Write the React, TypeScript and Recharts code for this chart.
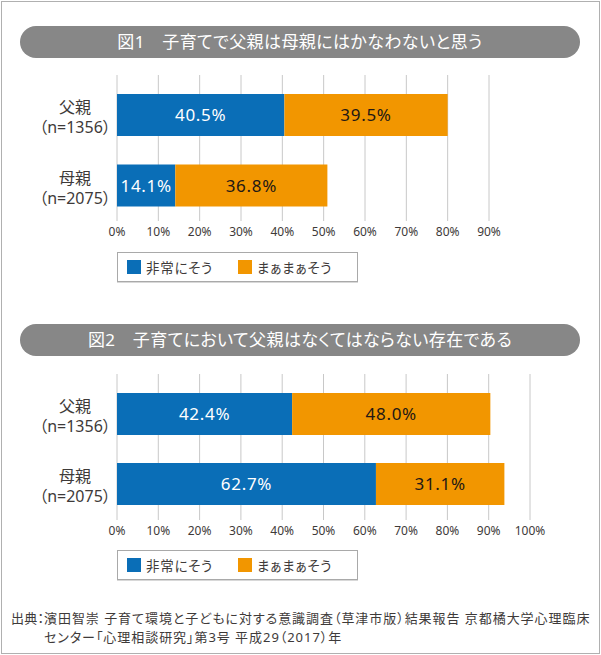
import { Bar, BarChart, CartesianGrid, LabelList, XAxis, YAxis } from "recharts";

const groups = ["父親", "母親"];
const sampleSizes = ["n=1356", "n=2075"];
const seriesNames = ["非常にそう", "まぁまぁそう"];

const fig1Title = "図1　子育てで父親は母親にはかなわないと思う";
const fig1Strong = [40.5, 14.1];
const fig1Somewhat = [39.5, 36.8];
const fig1Ticks = [0, 10, 20, 30, 40, 50, 60, 70, 80, 90];

const fig2Title = "図2　子育てにおいて父親はなくてはならない存在である";
const fig2Strong = [42.4, 62.7];
const fig2Somewhat = [48.0, 31.1];
const fig2Ticks = [0, 10, 20, 30, 40, 50, 60, 70, 80, 90, 100];

const sourceLabel = "出典：";
const sourceLines = [
  "濱田智崇 子育て環境と子どもに対する意識調査（草津市版）結果報告 京都橘大学心理臨床",
  "センター「心理相談研究」第3号 平成29（2017）年",
];

const BLUE = "#0a6eb7";
const ORANGE = "#f29600";
const TEXT = "#3e3a39";
const FONT = '"Noto Sans", "Noto Sans CJK JP", sans-serif';

const pct = (v: any) => `${Number(v).toFixed(1)}%`;

function GroupTick(props: any) {
  const { x, y, index } = props;
  const cx = x - 42;
  return (
    <g fill={TEXT} fontSize={16} fontFamily={FONT} style={{ fontFeatureSettings: '"palt"' }}>
      <text x={cx} y={y - 2} textAnchor="middle">
        {groups[index]}
      </text>
      <text x={cx} y={y + 18} textAnchor="middle">
        {`（${sampleSizes[index]}）`}
      </text>
    </g>
  );
}

function Pill({ top, text }: { top: number; text: string }) {
  return (
    <div
      style={{
        position: "absolute",
        left: 20,
        top,
        width: 560,
        height: 32,
        borderRadius: 16,
        background: "#878787",
        color: "#fff",
        fontSize: 17,
        lineHeight: "32px",
        textAlign: "center",
        letterSpacing: 0.4,
      }}
    >
      {text}
    </div>
  );
}

function LegendBox({ top }: { top: number }) {
  const colors = [BLUE, ORANGE];
  return (
    <div
      style={{
        position: "absolute",
        left: 117,
        top,
        width: 230,
        height: 28,
        border: "1px solid #a9a9a9",
        boxShadow: "0 1px 0 #d8d8d8",
        display: "flex",
        alignItems: "center",
        paddingLeft: 9,
        boxSizing: "content-box",
        fontSize: 13.5,
        color: TEXT,
        letterSpacing: 0.8,
      }}
    >
      {seriesNames.map((s, i) => (
        <div key={s} style={{ display: "flex", alignItems: "center", width: i === 0 ? 111 : undefined }}>
          <span style={{ width: 14, height: 14, background: colors[i], marginRight: 5, display: "inline-block" }} />
          <span>{s}</span>
        </div>
      ))}
    </div>
  );
}

function Figure({
  top,
  strong,
  somewhat,
  ticks,
  right,
  marginTop,
  padBottom,
}: {
  top: number;
  strong: number[];
  somewhat: number[];
  ticks: number[];
  right: number;
  marginTop: number;
  padBottom: number;
}) {
  const data = groups.map((g, i) => ({ name: g, strong: strong[i], somewhat: somewhat[i] }));
  const max = ticks[ticks.length - 1];
  return (
    <div style={{ position: "absolute", left: 0, top }}>
      <BarChart
        width={601}
        height={300}
        data={data}
        layout="vertical"
        margin={{ top: marginTop, right, bottom: 300 - marginTop - 146 - 30, left: 0 }}
      >
        <CartesianGrid horizontal={false} stroke="#c8c8c8" strokeWidth={1} />
        <XAxis
          type="number"
          domain={[0, max]}
          ticks={ticks}
          tickFormatter={(v) => `${v}%`}
          axisLine={false}
          tickLine={false}
          tickSize={0}
          tickMargin={6}
          height={30}
          tick={{ fill: TEXT, fontSize: 12, fontFamily: FONT }}
          interval={0}
        />
        <YAxis
          type="category"
          dataKey="name"
          width={117}
          axisLine={false}
          tickLine={false}
          tickSize={0}
          tickMargin={0}
          padding={{ top: 5, bottom: padBottom }}
          tick={<GroupTick />}
        />
        <Bar dataKey="strong" stackId="a" fill={BLUE} barSize={42} isAnimationActive={false}>
          <LabelList
            dataKey="strong"
            position="center"
            formatter={pct}
            fill="#fff"
            fontSize={17}
            fontFamily={FONT}
            style={{ letterSpacing: 0.7 }}
          />
        </Bar>
        <Bar dataKey="somewhat" stackId="a" fill={ORANGE} barSize={42} isAnimationActive={false}>
          <LabelList
            dataKey="somewhat"
            position="center"
            formatter={pct}
            fill="#231815"
            fontSize={17}
            fontFamily={FONT}
            style={{ letterSpacing: 0.7 }}
          />
        </Bar>
      </BarChart>
    </div>
  );
}

export default function App() {
  return (
    <div
      style={{
        position: "absolute",
        left: 0,
        top: 0,
        width: 601,
        height: 655,
        background: "#fff",
        fontFamily: FONT,
        fontFeatureSettings: '"palt"',
      }}
    >
      <div
        style={{
          position: "absolute",
          left: 1,
          top: 1,
          width: 597,
          height: 651,
          border: "1px solid #b0b0b0",
        }}
      />
      <Pill top={26} text={fig1Title} />
      <Figure top={0} strong={fig1Strong} somewhat={fig1Somewhat} ticks={fig1Ticks} right={112} marginTop={75} padBottom={0} />
      <LegendBox top={252} />

      <Pill top={324} text={fig2Title} />
      <Figure top={300} strong={fig2Strong} somewhat={fig2Somewhat} ticks={fig2Ticks} right={71} marginTop={74} padBottom={1} />
      <LegendBox top={550} />

      <div
        style={{
          position: "absolute",
          left: 11,
          top: 609,
          fontSize: 13,
          lineHeight: "19px",
          color: TEXT,
          display: "flex",
          whiteSpace: "nowrap",
        }}
      >
        <span style={{ width: 33, flex: "none", letterSpacing: 0.3 }}>{sourceLabel}</span>
        <div style={{ letterSpacing: 0.95 }}>
          {sourceLines.map((l) => (
            <div key={l}>{l}</div>
          ))}
        </div>
      </div>
    </div>
  );
}
